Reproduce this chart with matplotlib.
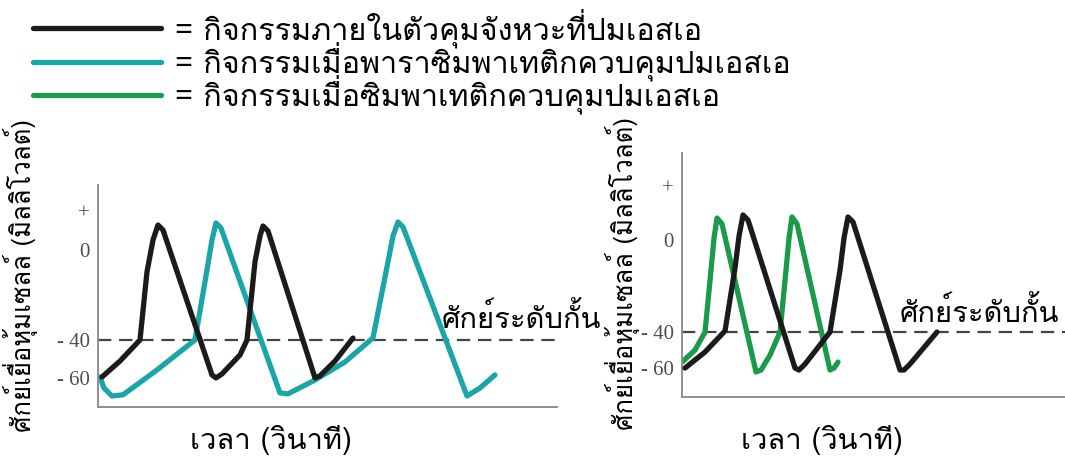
import matplotlib
matplotlib.use("Agg")
import matplotlib.pyplot as plt

THAI = ["Loma", "DejaVu Sans"]

# legend / labels
legend_labels = [
    "= กิจกรรมภายในตัวคุมจังหวะที่ปมเอสเอ",
    "= กิจกรรมเมื่อพาราซิมพาเทติกควบคุมปมเอสเอ",
    "= กิจกรรมเมื่อซิมพาเทติกควบคุมปมเอสเอ",
]
ylabel = "ศักย์เยื่อหุ้มเซลล์ (มิลลิโวลต์)"
xlabel = "เวลา (วินาที)"
threshold_label = "ศักย์ระดับกั้น"
threshold = -40
tick_labels = ["- 60", "- 40", "0", "+"]

# left panel: pacemaker (black) vs parasympathetic (teal)
left_ticks = [-60, -40, 7.4, 27.4]
black_l_t = [0.4, 2.2, 4.2, 4.9, 5.5, 6.0, 6.5, 11.4, 11.8, 12.4, 14.2, 14.9,
             15.7, 16.2, 16.5, 17.0, 21.7, 22.2, 23.7, 25.5]
black_l_v = [-59.5, -51.1, -40, -4.2, 12.6, 20.5, 17.9, -58.4, -60, -57.9, -47.9, -40,
             1.1, 14.7, 20.0, 17.4, -60, -58.9, -51.1, -39]
para_t = [0.2, 0.6, 1.4, 2.5, 5.9, 9.7, 10.9, 11.4, 11.8, 12.3, 18.2, 19.0,
          21.7, 24.7, 27.5, 29.0, 29.5, 30.0, 30.5, 36.9, 38.2, 39.7]
para_v = [-59.5, -65.3, -69.5, -68.9, -55.8, -40, -3.2, 12.6, 21.6, 18.9, -67.9, -68.4,
          -61.1, -51.6, -38.9, 1.1, 14.7, 22.1, 19.5, -69.5, -65.3, -58.4]

# right panel: pacemaker (black) vs sympathetic (green)
right_ticks = [-60, -40, 11.1, 40.6]
black_r_t = [0.3, 2.3, 4.3, 5.3, 5.7, 6.1, 6.6, 11.3, 11.7, 12.3, 14.8, 15.8,
             16.2, 16.6, 17.1, 21.8, 22.2, 22.8, 25.5]
black_r_v = [-60, -51.1, -39.4, -4.4, 13.3, 25.0, 22.2, -60, -61.1, -57.8, -40, -5.6,
             12.2, 23.9, 21.1, -61.1, -61.1, -57.8, -40]
symp_t = [0.0, 1.3, 2.3, 2.9, 3.2, 3.5, 4.0, 7.4, 7.9, 8.8, 9.8, 10.4,
          10.7, 11.0, 11.5, 14.8, 15.2, 15.6]
symp_v = [-56.7, -50, -40, -5.6, 12.2, 23.3, 20.0, -62.2, -61.1, -52.8, -40, -5.6,
          12.2, 23.9, 20.0, -61.1, -60, -56.7]

BLACK = "#1b1b1b"
TEAL = "#1aa6a8"
GREEN = "#1b9a4c"
SPINE = "#8f8f8f"

fig = plt.figure(figsize=(10.65, 4.59), dpi=100)
ax1 = fig.add_axes([0.092, 0.1133, 0.431, 0.4837])
ax2 = fig.add_axes([0.6404, 0.135, 0.3596, 0.5316])

line_kw = dict(lw=3.8, solid_joinstyle="round", solid_capstyle="round")
h_black, = ax1.plot(black_l_t, black_l_v, color=BLACK, zorder=3, **line_kw)
h_para, = ax1.plot(para_t, para_v, color=TEAL, zorder=2, **line_kw)
ax2.plot(black_r_t, black_r_v, color=BLACK, zorder=3, **line_kw)
h_symp, = ax2.plot(symp_t, symp_v, color=GREEN, zorder=2, **line_kw)

for ax, ticks, ylim, xmax in [(ax1, left_ticks, (-75.3, 41.6), 45.9),
                               (ax2, right_ticks, (-76.1, 59.4), 38.3)]:
    ax.axhline(threshold, color="#444444", lw=1.6, dashes=(6, 3.5), zorder=1)
    ax.set_xlim(0, xmax)
    ax.set_ylim(*ylim)
    ax.set_xticks([])
    ax.set_yticks(ticks)
    ax.set_yticklabels(tick_labels, family="Liberation Serif", fontsize=15,
                       color="#4d4d4d")
    ax.tick_params(axis="y", length=0, pad=6)
    for s in ["top", "right"]:
        ax.spines[s].set_visible(False)
    for s in ["left", "bottom"]:
        ax.spines[s].set_color(SPINE)
        ax.spines[s].set_linewidth(1.4)
    ax.patch.set_alpha(0)

ax1.text(0.749, 0.40, threshold_label, transform=ax1.transAxes, family=THAI,
         fontsize=21, va="center", ha="left", clip_on=False, zorder=5)
ax2.text(0.569, 0.348, threshold_label, transform=ax2.transAxes, family=THAI,
         fontsize=21, va="center", ha="left", clip_on=False, zorder=5)

fig.text(271 / 1065, 1 - 440 / 459, xlabel, family=THAI, fontsize=21,
         ha="center", va="center")
fig.text(822 / 1065, 1 - 440 / 459, xlabel, family=THAI, fontsize=21,
         ha="center", va="center")
fig.text(21 / 1065, 1 - 276 / 459, ylabel, family=THAI, fontsize=18.5,
         rotation=90, ha="center", va="center")
fig.text(622 / 1065, 1 - 273 / 459, ylabel, family=THAI, fontsize=18.5,
         rotation=90, ha="center", va="center")

fig.legend([h_black, h_para, h_symp], legend_labels, loc="upper left",
           bbox_to_anchor=(33 / 1065, 1 - 8 / 459), frameon=False,
           prop={"family": THAI, "size": 22}, handlelength=4.2,
           handletextpad=0.45, labelspacing=-0.2, borderpad=0,
           borderaxespad=0)

fig.savefig("out.png", dpi=100)
